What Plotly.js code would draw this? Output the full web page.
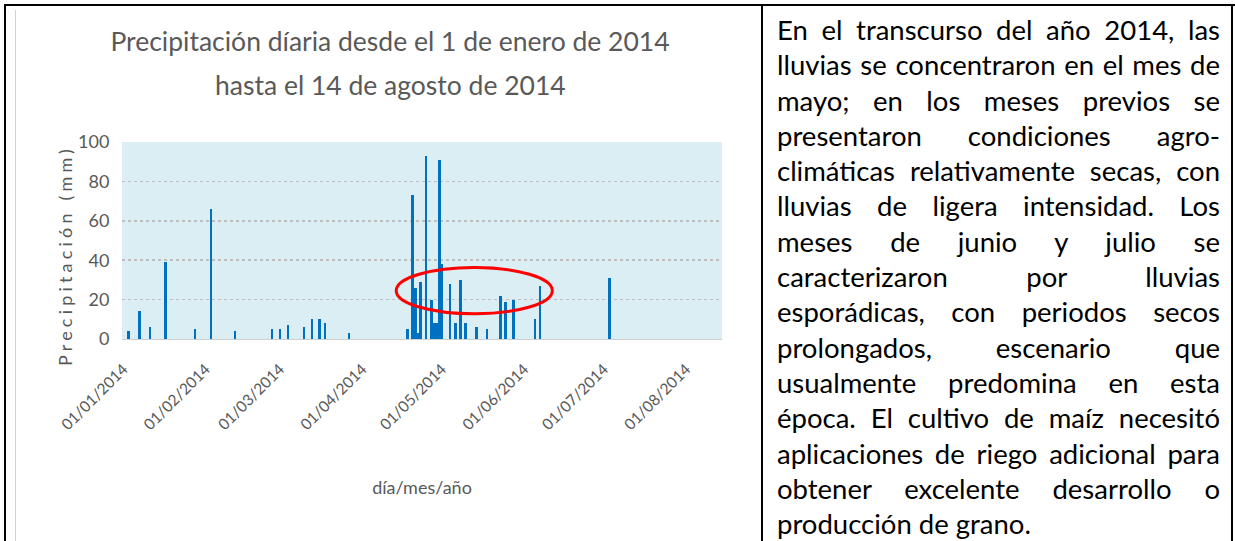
<!DOCTYPE html>
<html>
<head>
<meta charset="utf-8">
<script src="https://cdn.plot.ly/plotly-3.0.1.min.js"></script>
<style>
  html, body { margin:0; padding:0; background:#ffffff; }
  body { width:1235px; height:541px; position:relative; overflow:hidden; }
  #chart { position:absolute; left:0; top:0; width:1235px; height:541px; }
  .rule { position:absolute; background:#000; pointer-events:none; }
  #txt { position:absolute; left:777px; top:12px; width:443px;
         font-family: Lato, "Noto Sans", sans-serif; font-size:27.5px; line-height:35.3px; color:#000; }
  #txt div { text-align:justify; text-align-last:justify; white-space:nowrap; }
  #txt div.last { text-align-last:left; }
  .ytitle { letter-spacing:4.2px; }
</style>
</head>
<body>
<div id="chart"></div>
<div class="rule" style="left:4px;top:4px;width:1231px;height:2px;"></div>
<div class="rule" style="left:4px;top:4px;width:2px;height:537px;"></div>
<div class="rule" style="left:761px;top:4px;width:2px;height:537px;"></div>
<div class="rule" style="left:1231px;top:4px;width:2px;height:537px;"></div>
<div class="rule" style="left:15px;top:10px;width:1px;height:531px;background:#d0d0d0;"></div>
<div id="txt"></div>
<script>
// ---- data ----
var rainDates = ['2014-01-03','2014-01-07','2014-01-11','2014-01-17','2014-01-28',
  '2014-02-03','2014-02-12','2014-02-26','2014-03-01','2014-03-04','2014-03-10',
  '2014-03-13','2014-03-16','2014-03-18','2014-03-27','2014-04-18','2014-04-20',
  '2014-04-21','2014-04-22','2014-04-23','2014-04-25','2014-04-27','2014-04-28',
  '2014-04-29','2014-04-30','2014-05-01','2014-05-04','2014-05-06','2014-05-08',
  '2014-05-10','2014-05-14','2014-05-18','2014-05-23','2014-05-25','2014-05-28',
  '2014-06-05','2014-06-07','2014-07-03'];
var rainMm = [4,14,6,39,5,
  66,4,5,5,7,6,
  10,10,8,3,5,73,
  26,3,29,93,20,8,
  8,91,38,28,8,30,
  8,6,5,22,19,20,
  10,27,31];
var tickDates = ['2014-01-01','2014-02-01','2014-03-01','2014-04-01','2014-05-01','2014-06-01','2014-07-01','2014-08-01'];
var tickLabels = ['01/01/2014','01/02/2014','01/03/2014','01/04/2014','01/05/2014','01/06/2014','01/07/2014','01/08/2014'];
var yTicks = [0,20,40,60,80,100];
var xRange = ['2013-12-31 12:00','2014-08-14 12:00'];
var titleLines = ['Precipitación díaria desde el 1 de enero de 2014','hasta el 14 de agosto de 2014'];
var xTitle = 'día/mes/año';
var yTitle = 'Precipitación (mm)';
var ellipseX = ['2014-04-13 19:00','2014-06-11 14:00'];
var ellipseY = [12.8, 36.3];
var textLines = [
  'En el transcurso del año 2014, las',
  'lluvias se concentraron en el mes de',
  'mayo; en los meses previos se',
  'presentaron condiciones agro-',
  'climáticas relativamente secas, con',
  'lluvias de ligera intensidad. Los',
  'meses de junio y julio se',
  'caracterizaron por lluvias',
  'esporádicas, con periodos secos',
  'prolongados, escenario que',
  'usualmente predomina en esta',
  'época. El cultivo de maíz necesitó',
  'aplicaciones de riego adicional para',
  'obtener excelente desarrollo o',
  'producción de grano.'
];

// ---- right-hand text ----
var box = document.getElementById('txt');
textLines.forEach(function(t, i){
  var d = document.createElement('div');
  d.textContent = t;
  if (i === textLines.length - 1) d.className = 'last';
  box.appendChild(d);
});

// ---- chart ----
var F = 'Lato, "Noto Sans", sans-serif';
var GREY = '#595959';
var trace = {
  type:'bar', x:rainDates, y:rainMm,
  marker:{color:'#0070C0', line:{width:0}},
  width: 86400000,
  hoverinfo:'x+y'
};
var layout = {
  width:1235, height:541,
  margin:{l:122, r:513, t:142, b:202, pad:0},
  paper_bgcolor:'rgba(0,0,0,0)',
  plot_bgcolor:'#DAEEF3',
  showlegend:false,
  bargap:0,
  title:{text:titleLines[0], font:{family:F, size:26.5, color:GREY},
         x:390/1235, xref:'container', xanchor:'center',
         y:1-42/541, yref:'container', yanchor:'middle'},
  annotations:[{text:titleLines[1], xref:'paper', yref:'paper',
         x:(390-122)/600, y:1+(142-85)/197, xanchor:'center', yanchor:'middle',
         showarrow:false, font:{family:F, size:26.5, color:GREY}}],
  xaxis:{type:'date', range:xRange, tickmode:'array', tickvals:tickDates, ticktext:tickLabels,
         tickangle:-45, tickfont:{family:F, size:15.5, color:GREY},
         ticks:'outside', ticklen:14, tickcolor:'rgba(0,0,0,0)',
         showgrid:false, showline:true, linecolor:'#D0D0D0', linewidth:1, zeroline:false,
         title:{text:xTitle, font:{family:F, size:18, color:GREY}, standoff:49}},
  yaxis:{range:[0,100], tickmode:'array', tickvals:yTicks, tickfont:{family:F, size:18, color:GREY},
         ticks:'outside', ticklen:8, tickcolor:'rgba(0,0,0,0)',
         showgrid:true, gridcolor:'#BFBFBF', griddash:'dot', gridwidth:1.5,
         zeroline:false, showline:false,
         title:{text:yTitle, font:{family:F, size:18, color:GREY}, standoff:0}},
  shapes:[{type:'circle', xref:'x', yref:'y', x0:ellipseX[0], x1:ellipseX[1], y0:ellipseY[0], y1:ellipseY[1],
           line:{color:'#FF0000', width:3}}]
};
Plotly.newPlot('chart', [trace], layout, {staticPlot:true, displayModeBar:false}).then(function(gd){
  // the reference's vertical title sits a little below the plot's middle
  var t = gd.querySelector('.ytitle');
  if (t) {
    var tr = t.getAttribute('transform') || '';
    t.setAttribute('transform', 'translate(0,15) ' + tr);
  }
});
</script>
</body>
</html>
